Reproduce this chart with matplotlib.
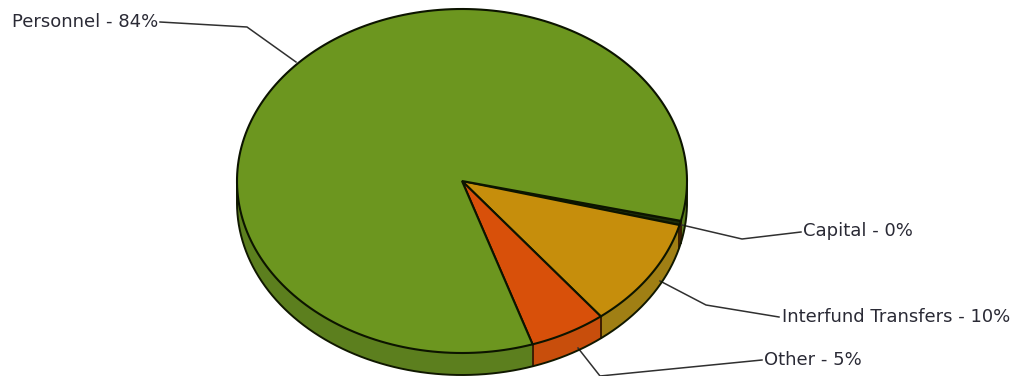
import numpy as np
import matplotlib
matplotlib.use('Agg')
import matplotlib.pyplot as plt
from matplotlib.patches import Polygon

# slices, clockwise from the right hand side of the pie
labels = ['Capital - 0%', 'Interfund Transfers - 10%', 'Other - 5%', 'Personnel - 84%']
values = [0.4, 10.3, 5.5, 83.8]
top_colors = ['#1c2c0a', '#c68e0c', '#d8500a', '#6c961f']
side_colors = ['#2c4410', '#a07f14', '#c84e0c', '#5c7f1e']

# pie geometry in pixels
cx, cy = 462, 181
rx, ry = 225, 172
depth = 22
start = 13.4

# leader lines, picture pixels
leaders = [
    [(682, 225), (742, 239), (801, 232)],
    [(660, 281), (706, 305), (779, 317)],
    [(578, 348), (600, 376), (762, 360)],
    [(296, 62), (247, 27), (160, 22)],
]
text_pos = [(803, 231, 'left'), (782, 317, 'left'), (764, 360, 'left'), (158, 22, 'right')]


def arc(t0, t1, dy=0):
    t = np.radians(np.linspace(t0, t1, 200))
    return np.column_stack((cx + rx * np.cos(t), cy + dy + ry * np.sin(t)))


fig = plt.figure(figsize=(10.16, 3.76), dpi=100)
ax = fig.add_axes([0, 0, 1, 1])
ax.set_xlim(0, 1016)
ax.set_ylim(376, 0)
ax.axis('off')

edges = start + np.cumsum([0] + values) * 3.6

# side wall first, only the front half shows (last slice wraps past 360)
for i in range(len(values)):
    for shift in (0, -360):
        t0, t1 = max(edges[i] + shift, 0), min(edges[i + 1] + shift, 180)
        if t1 <= t0:
            continue
        pts = np.vstack((arc(t0, t1), arc(t0, t1, depth)[::-1]))
        ax.add_patch(Polygon(pts, closed=True, fc=side_colors[i], ec='none', zorder=2))
        for t in (t0, t1):
            if 0 < t < 180:
                p = arc(t, t)[0]
                ax.plot([p[0], p[0]], [p[1], p[1] + depth], color='#3a1a00', lw=1.1, zorder=2.5)

# leader lines sit under the top face
for line in leaders:
    xs, ys = zip(*line)
    ax.plot(xs, ys, color='#303030', lw=1.1, zorder=2.7, clip_on=False)

# outer rim of the wall, up to the widest points of the top face
rim = np.vstack(([(cx + rx, cy)], arc(0, 180, depth), [(cx - rx, cy)]))
ax.plot(rim[:, 0], rim[:, 1], color='#101800', lw=1.4, zorder=3)

# top face
for i in range(len(values)):
    pts = np.vstack(([(cx, cy)], arc(edges[i], edges[i + 1])))
    ax.add_patch(Polygon(pts, closed=True, fc=top_colors[i], ec='#0c1400', lw=1.5, zorder=4, joinstyle='miter'))

for lab, (x, y, ha) in zip(labels, text_pos):
    ax.text(x, y, lab, ha=ha, va='center', fontsize=13, color='#2a2a35', family='DejaVu Sans', zorder=5)

fig.savefig('out.png', dpi=100)
